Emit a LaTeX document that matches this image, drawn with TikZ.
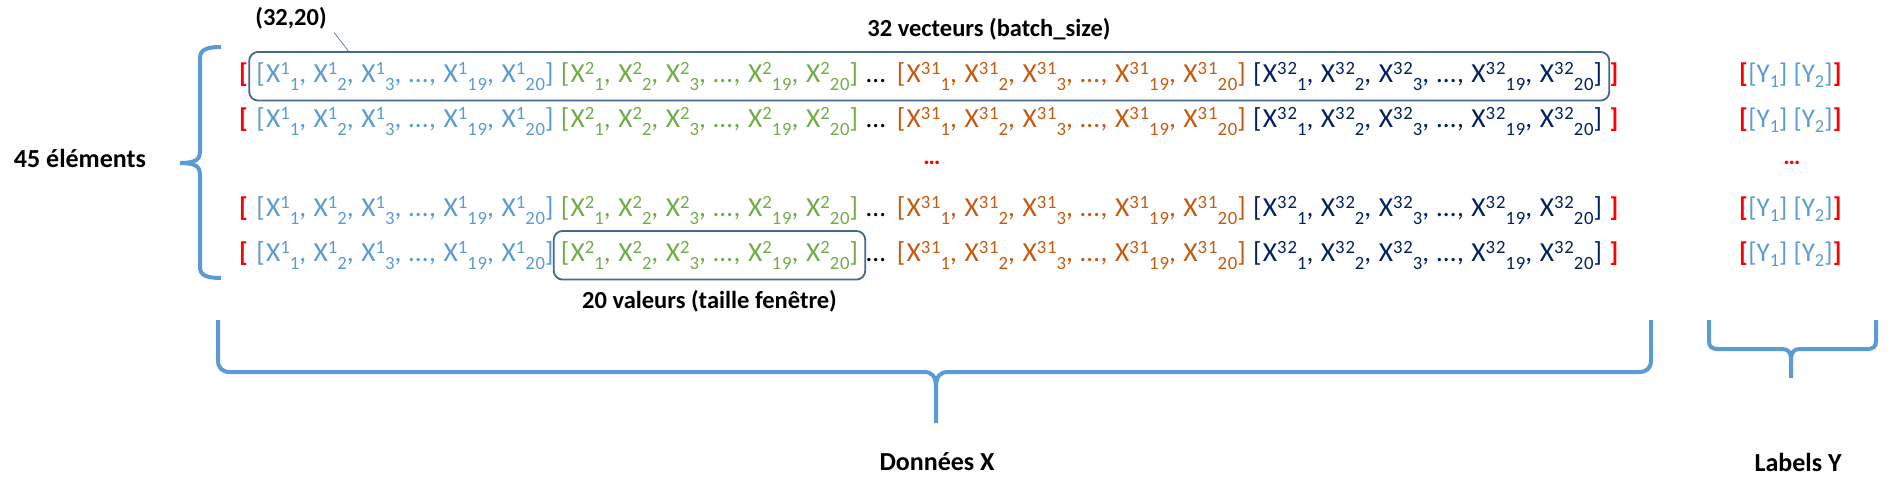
\documentclass[tikz,border=0pt]{standalone}
\usepackage{fontspec}
\setmainfont{Carlito}
\newfontfamily\lignes[LetterSpace=4.7]{Carlito}
\usetikzlibrary{positioning, calc, fit}

\definecolor{bleuX}{RGB}{91,155,213}
\definecolor{vertX}{RGB}{112,173,71}
\definecolor{orangeX}{RGB}{197,90,17}
\definecolor{marineX}{RGB}{0,32,96}
\definecolor{rougeX}{RGB}{255,0,0}
\definecolor{cadreX}{RGB}{68,104,142}

\newcommand{\expo}[1]{\raisebox{.26em}{\scalebox{.68}{#1}}}
\newcommand{\indi}[1]{\raisebox{-.3em}{\scalebox{.68}{#1}}}
\newcommand{\vect}[1]{[X\expo{#1}\indi{1}, X\expo{#1}\indi{2}, X\expo{#1}\indi{3}, …, X\expo{#1}\indi{19}, X\expo{#1}\indi{20}]}

\begin{document}
\begin{tikzpicture}[x=1pt, y=-1pt,
  grp/.style={inner sep=0pt, anchor=base west, font=\lignes\fontsize{27.5}{30}\selectfont},
  ygrp/.style={inner sep=0pt, anchor=base west, font=\fontsize{27}{30}\selectfont},
  crochet/.style={ygrp, text=rougeX, font=\fontsize{27}{30}\selectfont\bfseries},
  titre/.style={font=\fontsize{26}{30}\selectfont\bfseries},
  petit/.style={font=\fontsize{24.5}{28}\selectfont\bfseries},
  points/.style={text=rougeX, font=\fontsize{24}{28}\selectfont\bfseries},
  cadre/.style={draw=cadreX, line width=1.8pt, rounded corners=9pt, inner xsep=7pt, inner ysep=10pt},
  accolade/.style={draw=bleuX, line width=4pt},
  trait/.style={draw=cadreX!80, line width=0.8pt},
]
\useasboundingbox (0,0) rectangle (1901,496);

% ===== ROWS OF VECTORS =====
\foreach \yy/\i in {82/1, 127/2, 216/3, 261/4}{
  \node[crochet] (lb\i) at (239,\yy) {[};
  \node[grp, text=bleuX, base right=8pt of lb\i] (xa\i) {\vect{1}};
  \node[grp, text=vertX, base right=7pt of xa\i] (xb\i) {\vect{2}};
  \node[grp, base right=8pt of xb\i] (dd\i) {…};
  \node[grp, text=orangeX, base right=11pt of dd\i] (xc\i) {\vect{31}};
  \node[grp, text=marineX, base right=7pt of xc\i] (xd\i) {\vect{32}};
  \node[crochet, base right=7pt of xd\i] (rb\i) {]};
  % labels Y
  \node[crochet] (ylb\i) at (1739,\yy) {[};
  \node[ygrp, text=bleuX, base right=0pt of ylb\i] (y\i) {[Y\raisebox{-.2em}{\scalebox{.68}{1}}] [Y\raisebox{-.2em}{\scalebox{.68}{2}}]};
  \node[crochet, base right=0pt of y\i] (yrb\i) {]};
}

% ===== ELLIPSIS BETWEEN ROWS =====
\node[points] (pts) at (932,163) {…};
\node[points] (ptsy) at (1792,163) {…};

% ===== BOXES =====
\node[cadre, fit=(xa1)(xd1)] (boite1) {};
\node[cadre, fit=(xb4)] (boite2) {};

% ===== ANNOTATIONS =====
\node[petit] (taille) at (291,18) {(32,20)};
\draw[trait] ([xshift=4pt]taille.south east) -- ([xshift=100pt]boite1.north west);
\node[petit] (batch) at (989,29) {32 vecteurs (batch\_size)};
\node[petit, below=6pt of boite2] (fenetre) {20 valeurs (taille fenêtre)};

% ===== BRACES =====
\draw[accolade] (221,47) .. controls (206,47) and (200,50) .. (200,58) -- (200,152)
  .. controls (200,159) and (196,163) .. (180,163)
  (180,163) .. controls (196,163) and (200,167) .. (200,174) -- (200,267)
  .. controls (200,275) and (206,278) .. (221,278);
\node[titre] (elem) at (80,158) {45 éléments};

\draw[accolade] (218,320) -- (218,360) .. controls (218,368) and (222,372) .. (230,372)
  -- (924,372) .. controls (932,372) and (936,376) .. (936,388) -- (936,423)
  (936,423) -- (936,388) .. controls (936,376) and (940,372) .. (948,372)
  -- (1639,372) .. controls (1647,372) and (1651,368) .. (1651,360) -- (1651,320);
\node[titre] (donnees) at (937,462) {Données X};

\draw[accolade] (1709,320) -- (1709,341) .. controls (1709,347) and (1712,349) .. (1718,349)
  -- (1782,349) .. controls (1788,349) and (1791,352) .. (1791,360) -- (1791,378)
  (1791,378) -- (1791,360) .. controls (1791,352) and (1794,349) .. (1800,349)
  -- (1867,349) .. controls (1873,349) and (1876,347) .. (1876,341) -- (1876,320);
\node[titre] (labels) at (1798,462) {Labels Y};

\end{tikzpicture}
\end{document}
